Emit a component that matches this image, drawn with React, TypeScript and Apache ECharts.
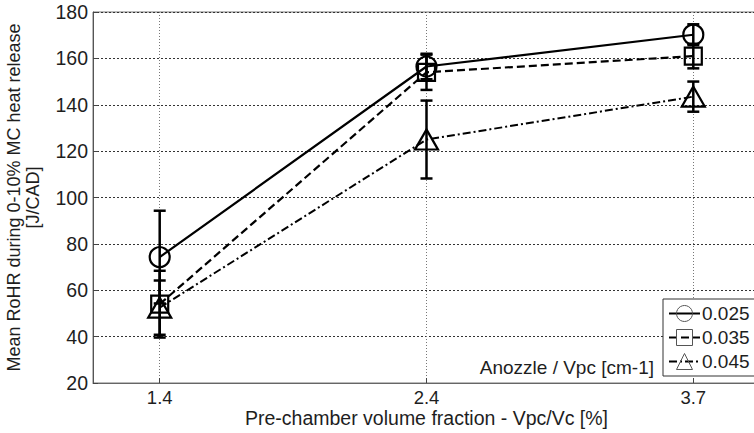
import React, { useEffect, useRef } from "react";
import * as echarts from "echarts";

const categories = ["1.4", "2.4", "3.7"];
const xPos = [1, 2, 3];
const seriesNames = ["0.025", "0.035", "0.045"];
const val025 = [74.3, 156.5, 170.2];
const err025 = [20, 5.5, 4.5];
const val035 = [54, 154, 161];
const err035 = [14.4, 7.6, 5.3];
const val045 = [52.5, 125, 143.5];
const err045 = [11.7, 16.8, 6.5];
const yTicks = [20, 40, 60, 80, 100, 120, 140, 160, 180];

const FONT = "Liberation Sans, Arial, Helvetica, sans-serif";
const TXT = "#1e1e1e";

function errData(vals: number[], errs: number[]) {
  return vals.map((v, i) => [xPos[i], v - errs[i], v + errs[i]]);
}

function lineData(vals: number[]) {
  return vals.map((v, i) => [xPos[i], v]);
}

export default function App() {
  const ref = useRef<HTMLDivElement>(null);
  useEffect(() => {
    if (!ref.current) return;
    const chart = echarts.init(ref.current, undefined, { renderer: "svg" });
    const renderErr = (params: any, api: any) => {
      const x = api.value(0);
      const lo = api.value(1);
      const hi = api.value(2);
      const t = api.coord([x, hi]);
      const b = api.coord([x, lo]);
      const w = 6;
      const st = { stroke: "#000", lineWidth: 2.5 };
      return {
        type: "group",
        children: [
          { type: "line", shape: { x1: t[0], y1: t[1], x2: b[0], y2: b[1] }, style: st },
          { type: "line", shape: { x1: t[0] - w, y1: t[1], x2: t[0] + w, y2: t[1] }, style: st },
          { type: "line", shape: { x1: b[0] - w, y1: b[1], x2: b[0] + w, y2: b[1] }, style: st },
        ],
      };
    };
    const mkLine = (name: string, vals: number[], symbol: string, size: any, type: any, width: number) => ({
      name,
      type: "line",
      data: lineData(vals),
      symbol,
      symbolSize: size,
      showAllSymbol: true,
      lineStyle: { color: "#000", width, type },
      itemStyle: { color: "rgba(255,255,255,0)", borderColor: "#000", borderWidth: 2.2 },
      emphasis: { disabled: true },
      z: 3,
    });
    const mkErr = (vals: number[], errs: number[]) => ({
      type: "custom",
      renderItem: renderErr,
      data: errData(vals, errs),
      encode: { x: 0, y: [1, 2] },
      z: 2,
      silent: true,
    });
    const labelMap: Record<number, string> = {};
    xPos.forEach((x, i) => (labelMap[x] = categories[i]));
    chart.setOption({
      animation: false,
      textStyle: { fontFamily: FONT },
      grid: {
        left: 93,
        top: 12,
        width: 667,
        height: 371,
        show: true,
        borderColor: "#777",
        borderWidth: 1,
        outerBoundsMode: "none",
        containLabel: false,
      },
      xAxis: {
        type: "value",
        min: 0.75,
        max: 3.25,
        interval: 0.25,
        name: "Pre-chamber volume fraction - Vpc/Vc [%]",
        nameLocation: "middle",
        nameGap: 25,
        nameMoveOverlap: false,
        nameTextStyle: { fontSize: 19.5, lineHeight: 19, color: TXT, fontFamily: FONT, verticalAlign: "top" },
        axisLine: { show: true, lineStyle: { color: "#666", width: 1 } },
        axisTick: { show: true, inside: true, length: 5, customValues: xPos, lineStyle: { color: "#444" } },
        axisLabel: {
          customValues: xPos,
          fontSize: 18.5,
          lineHeight: 17,
          color: TXT,
          fontFamily: FONT,
          margin: 6,
          formatter: (v: number) => labelMap[v] ?? "",
        },
        splitLine: { show: true, lineStyle: { color: "#777", type: [1, 2], width: 1 } },
      },
      yAxis: {
        type: "value",
        min: 20,
        max: 180,
        interval: 20,
        name: "Mean RoHR during 0-10% MC heat release\n[J/CAD]",
        nameLocation: "middle",
        nameRotate: 90,
        nameGap: 51,
        nameTextStyle: { fontSize: 18, color: TXT, fontFamily: FONT, lineHeight: 19 },
        axisLine: { show: true, lineStyle: { color: "#555", width: 1 } },
        axisTick: { show: true, inside: true, length: 5, lineStyle: { color: "#444" } },
        axisLabel: {
          fontSize: 19.5,
          color: TXT,
          fontFamily: FONT,
          margin: 5,
          formatter: (v: number) => (yTicks.includes(v) ? String(v) : ""),
        },
        splitLine: { show: true, lineStyle: { color: "#333", type: [2, 2], width: 1 } },
      },
      legend: {
        data: seriesNames,
        orient: "vertical",
        left: 663,
        top: 299,
        padding: [5, 8, 5, 5],
        itemGap: 5,
        itemWidth: 31,
        itemHeight: 20,
        backgroundColor: "#fff",
        borderColor: "#333",
        borderWidth: 1,
        borderRadius: 0,
        selectedMode: false,
        textStyle: { fontSize: 19, color: TXT, fontFamily: FONT, padding: [0, 0, 0, -3] },
        itemStyle: { borderColor: "#555", borderWidth: 1 },
        z: 10,
      },
      graphic: [
        {
          type: "text",
          x: 654,
          y: 367,
          z: 10,
          style: {
            text: "Anozzle / Vpc [cm-1]",
            fontSize: 19,
            fontFamily: FONT,
            fill: TXT,
            textAlign: "right",
            textVerticalAlign: "middle",
          },
        },
      ],
      series: [
        mkErr(val025, err025),
        mkErr(val035, err035),
        mkErr(val045, err045),
        mkLine(seriesNames[0], val025, "circle", 20, "solid", 2.2),
        mkLine(seriesNames[1], val035, "rect", 17, [8, 4], 2.2),
        mkLine(seriesNames[2], val045, "triangle", [23, 20], [8, 3, 2, 3], 2),
      ],
    });
    return () => chart.dispose();
  }, []);
  return (
    <div
      ref={ref}
      style={{ position: "fixed", left: 0, top: 0, width: 754, height: 433, background: "#fff" }}
    />
  );
}
